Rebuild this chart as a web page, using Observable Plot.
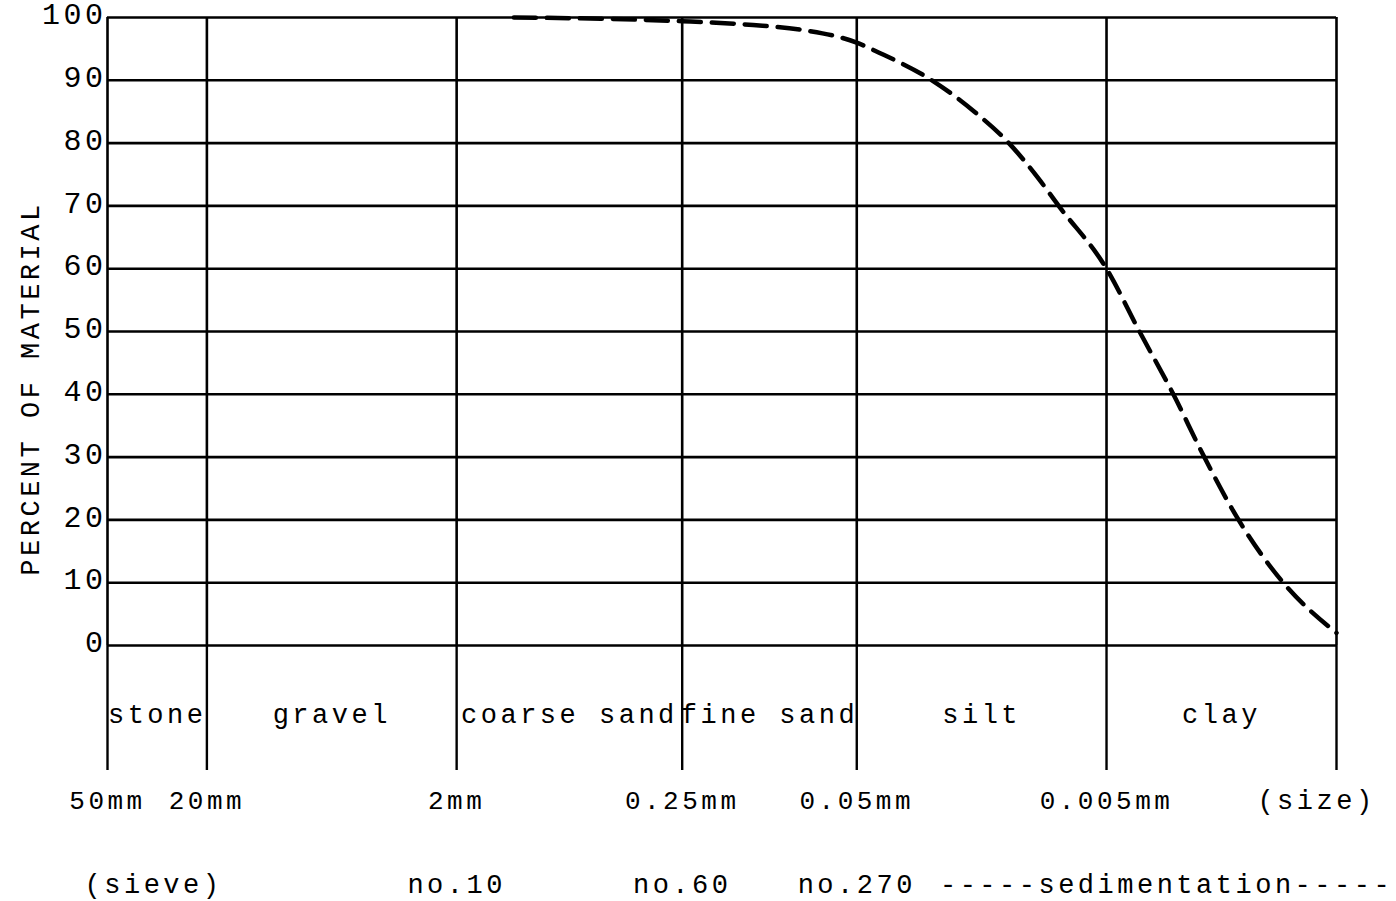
<!DOCTYPE html>
<html><head><meta charset="utf-8">
<script src="https://cdn.jsdelivr.net/npm/d3@7"></script>
<script src="https://cdn.jsdelivr.net/npm/@observablehq/plot@0.6"></script>
<style>
body{margin:0;background:#fff;}
svg text{font-family:"Liberation Mono",monospace;letter-spacing:3.5px;}
</style></head><body><div id="chart"></div>
<script>
// percent gridlines / tick labels
const percentTicks = [0,10,20,30,40,50,60,70,80,90,100];
// particle-size class boundaries (mm), left frame edge to right frame edge
const boundarySizes = [50, 20, 2, 0.25, 0.05, 0.005, 0.0006];
const sizeLabels = ["50mm", "20mm", "2mm", "0.25mm", "0.05mm", "0.005mm"];
const classNames = ["stone", "gravel", "coarse sand", "fine sand", "silt", "clay"];
const sieveSizes = [2, 0.25, 0.05];
const sieveLabels = ["no.10", "no.60", "no.270"];
// grading curve
const curveSize = [1.18, 0.53, 0.25, 0.13, 0.082, 0.05, 0.0407, 0.025, 0.0169, 0.0123, 0.00942, 0.00777, 0.005, 0.00369, 0.0027, 0.00203, 0.00148, 0.00098, 0.0006];
const curvePercent = [100, 99.8, 99.4, 98.8, 98, 96, 94.4, 90, 85, 80, 74.5, 70, 60, 50, 40, 30, 20, 10, 2];

const curveData = curveSize.map((s, i) => ({size: s, pct: curvePercent[i]}));
const classData = classNames.map((name, i) => ({name, size: Math.sqrt(boundarySizes[i] * boundarySizes[i + 1])}));
const sizeData = sizeLabels.map((label, i) => ({label, size: boundarySizes[i]}));
const sieveData = sieveLabels.map((label, i) => ({label, size: sieveSizes[i]}));
const rightEnd = boundarySizes[boundarySizes.length - 1];

const row = {frameAnchor: "bottom", lineAnchor: "middle", textAnchor: "middle", fill: "#000"};

const chart = Plot.plot({
  width: 1396, height: 901,
  marginLeft: 107, marginRight: 60, marginTop: 17, marginBottom: 256,
  style: {background: "#fff", color: "#000", fontFamily: "Liberation Mono, monospace"},
  x: {type: "log", domain: [boundarySizes[0], rightEnd], axis: null},
  y: {domain: [0, 100], axis: null},
  marks: [
    Plot.ruleY(percentTicks, {stroke: "#000", strokeWidth: 2.6}),
    Plot.ruleX(boundarySizes, {stroke: "#000", strokeWidth: 2.6}),
    Plot.axisX(boundarySizes, {tickSize: 125, tickFormat: () => "", label: null, stroke: "#000", strokeWidth: 2.4}),
    Plot.axisY(percentTicks, {tickSize: 0, tickPadding: 1, fontSize: 30, dy: -3, label: null, fill: "#000"}),
    Plot.line(curveData, {x: "size", y: "pct", curve: "monotone-x", stroke: "#000", strokeWidth: 4.5, strokeDasharray: "22,11"}),
    Plot.text(["PERCENT OF MATERIAL"], {frameAnchor: "left", textAnchor: "middle", lineAnchor: "middle", rotate: -90, dx: -77, dy: 57, fontSize: 27, fill: "#000"}),
    Plot.text(classData, {...row, x: "size", text: "name", dy: 69, fontSize: 27}),
    Plot.text(sizeData, {...row, x: "size", text: "label", dy: 155, fontSize: 26}),
    Plot.text(["(size)"], {...row, x: () => rightEnd, dy: 155, dx: -20, fontSize: 27}),
    Plot.text(["(sieve)"], {...row, x: () => boundarySizes[0], dy: 239, dx: 46, fontSize: 27}),
    Plot.text(sieveData, {...row, x: "size", text: "label", dy: 239, fontSize: 27}),
    Plot.text(["-----sedimentation-----"], {...row, x: () => boundarySizes[5], dy: 239, dx: 60, fontSize: 27})
  ]
});
document.getElementById("chart").append(chart);
</script>
</body></html>
